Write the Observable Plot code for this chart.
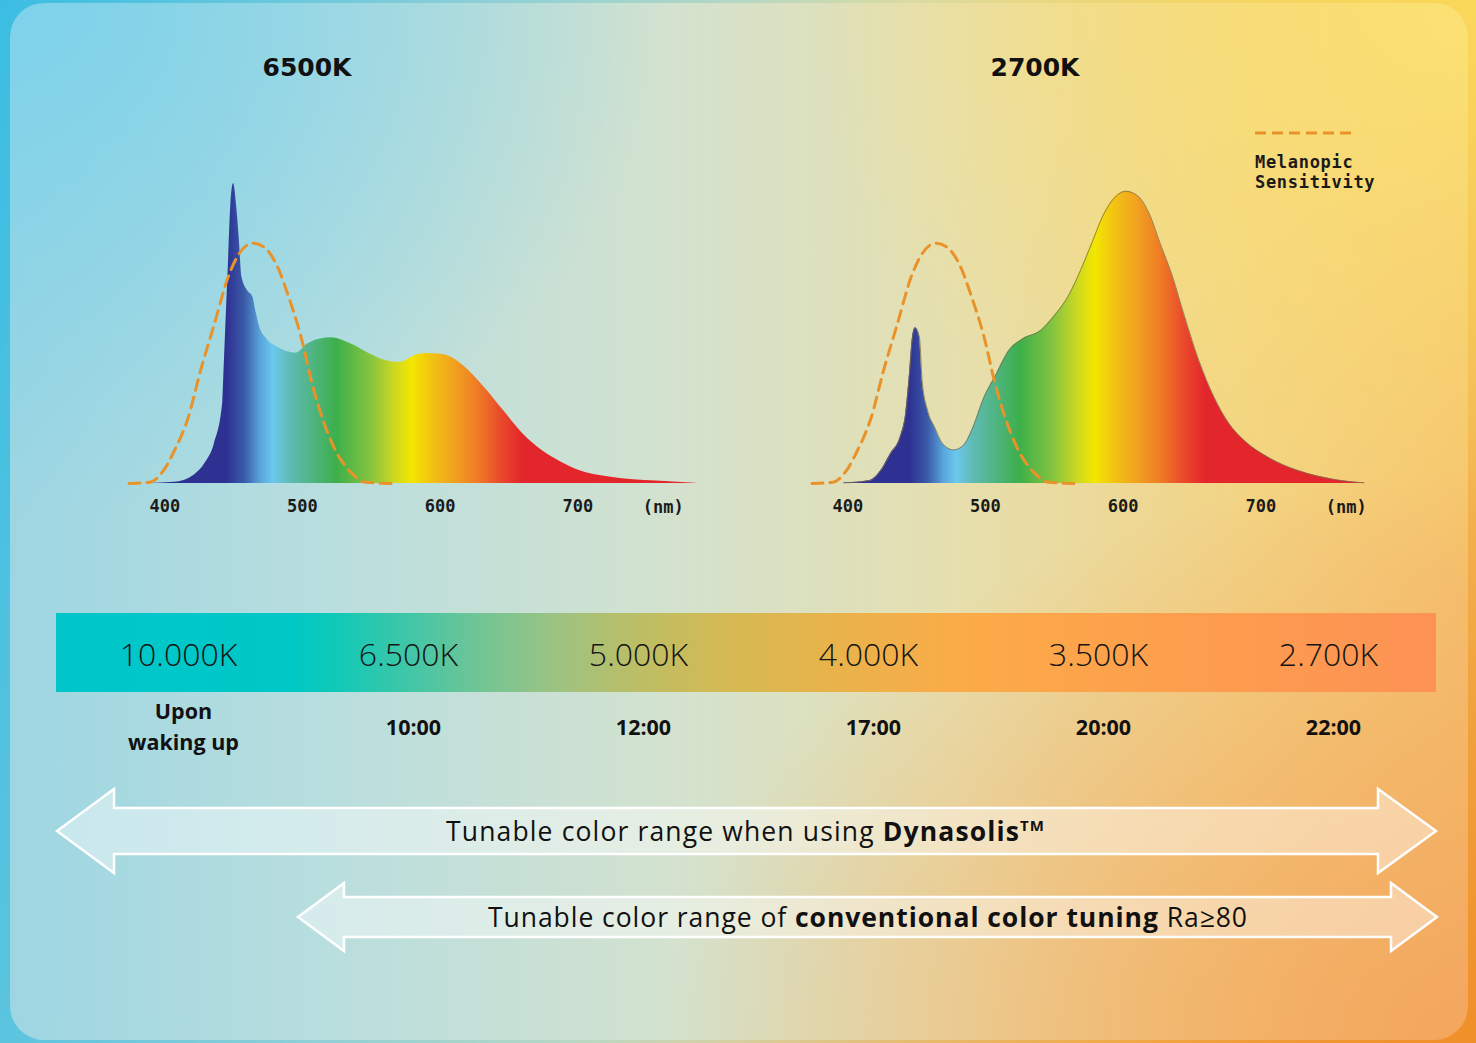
<!DOCTYPE html>
<html><head><meta charset="utf-8">
<script src="https://cdn.jsdelivr.net/npm/d3@7"></script>
<script src="https://cdn.jsdelivr.net/npm/@observablehq/plot@0.6"></script>
<style>
html,body{margin:0;padding:0;background:#fff;}
#page{position:relative;width:1476px;height:1043px;overflow:hidden;
 background:
  radial-gradient(ellipse 60% 60% at 100% 100%, #ef8f2a 0%, rgba(239,143,42,0) 100%),
  radial-gradient(ellipse 50% 50% at 100% 0%, #fad85a 0%, rgba(250,216,90,0) 100%),
  linear-gradient(100deg, #3bbde3 0%, #8fd0d6 30%, #cfdcb8 55%, #f2cf6e 80%, #f3ad48 100%);}
#panel{position:absolute;left:10px;top:3px;width:1458px;height:1037px;border-radius:34px;overflow:hidden;
 background:
  radial-gradient(ellipse 55% 55% at 100% 100%, #f3a65e 0%, rgba(243,166,94,0) 100%),
  radial-gradient(ellipse 45% 55% at 100% 0%, #fbe273 0%, rgba(251,226,115,0) 100%),
  radial-gradient(ellipse 45% 50% at 0% 0%, #7dd2ea 0%, rgba(125,210,234,0) 100%),
  linear-gradient(90deg, #9dd6e2 0%, #b9dede 22%, #d3e2cf 45%, #e6dfae 65%, #f2d384 85%, #f5c36e 100%);}
.abs{position:absolute;}
.title{font-family:"DejaVu Sans",sans-serif;font-weight:bold;font-size:25px;color:#111;transform:translate(-50%,-50%);white-space:nowrap;}
</style></head>
<body><div id="page"><div id="panel"></div>
<div class="abs title" style="left:307px;top:67px">6500K</div>
<div class="abs title" style="left:1035px;top:67px">2700K</div>
<div id="chart6500" class="abs" style="left:122.7px;top:150px"></div>
<div id="chart2700" class="abs" style="left:805.7px;top:150px"></div>
<svg class="abs" style="left:0;top:0" width="1476" height="1043" id="deco">
 <line x1="1255" x2="1357" y1="133" y2="133" stroke="#ea922a" stroke-width="3" stroke-dasharray="11,6"/>
 <text x="1255" y="168" font-family="DejaVu Sans Mono" font-weight="bold" font-size="17" letter-spacing="0.7" fill="#1a1a1a">Melanopic</text>
 <text x="1255" y="188" font-family="DejaVu Sans Mono" font-weight="bold" font-size="17" letter-spacing="0.7" fill="#1a1a1a">Sensitivity</text>
</svg>
<div id="bar" class="abs" style="left:0;top:600px"></div>
<svg class="abs" style="left:0;top:0" width="1476" height="1043" id="arrows">
 <polygon points="57,831 114,789 114,808 1378,808 1378,789 1436,831 1378,873 1378,854 114,854 114,873" fill="rgba(255,255,255,0.42)" stroke="#fff" stroke-width="2.5"/>
 <polygon points="298,917 344,883 344,897 1391,897 1391,883 1437,917 1391,951 1391,937 344,937 344,951" fill="rgba(255,255,255,0.42)" stroke="#fff" stroke-width="2.5"/>
 <text x="446" y="841" textLength="598" lengthAdjust="spacing" font-family="Open Sans" font-size="26.5" fill="#111">Tunable color range when using <tspan font-weight="bold">Dynasolis</tspan><tspan font-weight="bold" font-size="15" dy="-10">TM</tspan></text>
 <text x="488" y="927" textLength="759" lengthAdjust="spacing" font-family="Open Sans" font-size="26.5" fill="#111">Tunable color range of <tspan font-weight="bold">conventional color tuning</tspan> Ra≥80</text>
</svg>
</div>
<script>
// ---- Data ----
const nm6500  = [388,407,421,429,436,442,443,446,448,450,452,454,456,460,464,466,469,474,482,490,495,504,513,521,535,549,563,571,582,590,601,610,618,632,646,660,674,688,701,724,757,788];
const val6500 = [0,0.4,2.7,6.6,13.2,26.6,37.7,71,93.2,100,93.2,82.1,68.8,64.3,62.1,57.7,52.1,48.2,45.4,43.8,43.4,46.6,48.2,48.6,46.6,43.2,40.7,40.4,42.7,43.3,43.1,41.6,38.8,32.1,24.3,16.6,11,7.1,4.3,2.1,0.8,0];
const nm2700  = [397,416,424,431,438,442,445,447,449,452,454,458,463,469,477,484,491,498,508,517,527,540,549,561,569,577,586,594,602,611,619,627,636,644,655,666,677,688,705,727,755,775];
const val2700 = [0.2,1,4.3,9.9,15.4,23.2,37.7,48.8,51.9,48.8,34.3,24.3,18.8,13.2,11.2,12.7,18.8,27.7,36.6,44.3,48.2,51,55.4,63.2,71,79.9,89.9,95.4,97.4,95.7,89.9,79.9,68.8,56.6,41,28.8,19.9,14.3,8.8,4.3,1.2,0.2];
const melNm  = [374,389,399,407,417,426,436,446,454,464,472,482,490,499,507,515,524,535,546,565];
const melVal = [0,0.4,4.3,11,22,37.7,53.2,68.8,76.6,80.1,78.8,72.1,62.1,48.8,33.2,21,11,3.8,0.4,0];
const axisTicks = [400,500,600,700];
const unitLabel = [{nm:762, text:"(nm)"}];
const spectrumStopsNm = [430,445,458,470,479,492,505,525,550,567,580,595,610,628,645,660,790];
const spectrumStopsColor = ["#2e3192","#2e3192","#3a5aa8","#5aa6dc","#6cc8ee","#5dbbb0","#52b58a","#3daf4a","#86c440","#cdd820","#f3e600","#f2c014","#f1a21f","#ef7a26","#e9482b","#e3262b","#e3262b"];
const cctLabels = ["10.000K","6.500K","5.000K","4.000K","3.500K","2.700K"];
const timeLabels = ["Upon\nwaking up","10:00","12:00","17:00","20:00","22:00"];
const barStops = [[0,"#00c6cb"],[0.17,"#00c8c6"],[0.2,"#0ec9b8"],[0.26,"#44c6a6"],[0.31,"#74c594"],[0.36,"#9bc383"],[0.42,"#bcbe66"],[0.49,"#d6b952"],[0.56,"#e8b34b"],[0.66,"#fcab48"],[0.8,"#fd9f4d"],[1,"#fd9254"]];

const NS = "http://www.w3.org/2000/svg";
function addGradient(svg, id, x1, x2, stops) {
  const defs = document.createElementNS(NS, "defs");
  const g = document.createElementNS(NS, "linearGradient");
  g.setAttribute("id", id);
  g.setAttribute("gradientUnits", "userSpaceOnUse");
  g.setAttribute("x1", x1); g.setAttribute("x2", x2);
  g.setAttribute("y1", 0); g.setAttribute("y2", 0);
  for (const [o, c] of stops) {
    const s = document.createElementNS(NS, "stop");
    s.setAttribute("offset", o); s.setAttribute("stop-color", c);
    g.appendChild(s);
  }
  defs.appendChild(g);
  svg.insertBefore(defs, svg.firstChild);
}

function spectrum(nm, val, id, outline) {
  const data = nm.map((x, i) => ({nm: x, v: val[i]}));
  const mel = melNm.map((x, i) => ({nm: x, v: melVal[i]}));
  const marks = [
    Plot.areaY(data, {x: "nm", y: "v", fill: `url(#${id})`, curve: "monotone-x"}),
  ];
  if (outline) marks.push(Plot.line(data, {x: "nm", y: "v", stroke: "#7d6f4c", strokeWidth: 0.8, curve: "monotone-x"}));
  marks.push(
    Plot.line(mel, {x: "nm", y: "v", stroke: "#ea922a", strokeWidth: 3, strokeDasharray: "11,7", curve: "monotone-x"}),
    Plot.axisX(axisTicks, {label: null, tickSize: 0, tickPadding: 16, fontSize: 17, fontWeight: "bold", fontFamily: "DejaVu Sans Mono", fill: "#1a1a1a"}),
    Plot.text(unitLabel, {x: "nm", y: 0, text: "text", dy: 24, fontSize: 17, fontWeight: "bold", fontFamily: "DejaVu Sans Mono", fill: "#1a1a1a"})
  );
  const svg = Plot.plot({
    width: 592, height: 380, marginLeft: 0, marginRight: 0, marginTop: 33, marginBottom: 47,
    x: {domain: [370, 800], label: null}, y: {domain: [0, 100], axis: null},
    style: {background: "transparent", overflow: "visible"},
    marks
  });
  const sx = svg.scale("x");
  const a = spectrumStopsNm[0], b = spectrumStopsNm[spectrumStopsNm.length - 1];
  addGradient(svg, id, sx.apply(a), sx.apply(b),
    spectrumStopsNm.map((n, i) => [(n - a) / (b - a), spectrumStopsColor[i]]));
  return svg;
}
document.getElementById("chart6500").appendChild(spectrum(nm6500, val6500, "g6500", false));
document.getElementById("chart2700").appendChild(spectrum(nm2700, val2700, "g2700", true));

// ---- CCT bar ----
const barSvg = Plot.plot({
  width: 1476, height: 170, marginLeft: 0, marginRight: 0, marginTop: 0, marginBottom: 0,
  x: {type: "band", domain: cctLabels, range: [56, 1436], padding: 0, axis: null},
  y: {domain: [0, 1], range: [92, 13], axis: null},
  style: {background: "transparent", overflow: "visible", fontFamily: "'Open Sans', sans-serif"},
  marks: [
    Plot.barY(cctLabels, {x: d => d, y1: 0, y2: 1, fill: "url(#gBar)", shapeRendering: "crispEdges"}),
    Plot.text(cctLabels, {x: d => d, y: 0.47, dx: 7, text: d => d, fontSize: 32, fontWeight: 300, fill: "#151515", fontFamily: "Open Sans"}),
    Plot.text(timeLabels, {x: (d, i) => cctLabels[i], y: -0.41, dx: 12, text: d => d, fontSize: 21.5, fontWeight: 700, lineHeight: 1.42, fill: "#111", fontFamily: "Open Sans"})
  ]
});
const bx = barSvg.scale("x");
addGradient(barSvg, "gBar", bx.range[0], bx.range[1], barStops);
document.getElementById("bar").appendChild(barSvg);
</script>
</body></html>
